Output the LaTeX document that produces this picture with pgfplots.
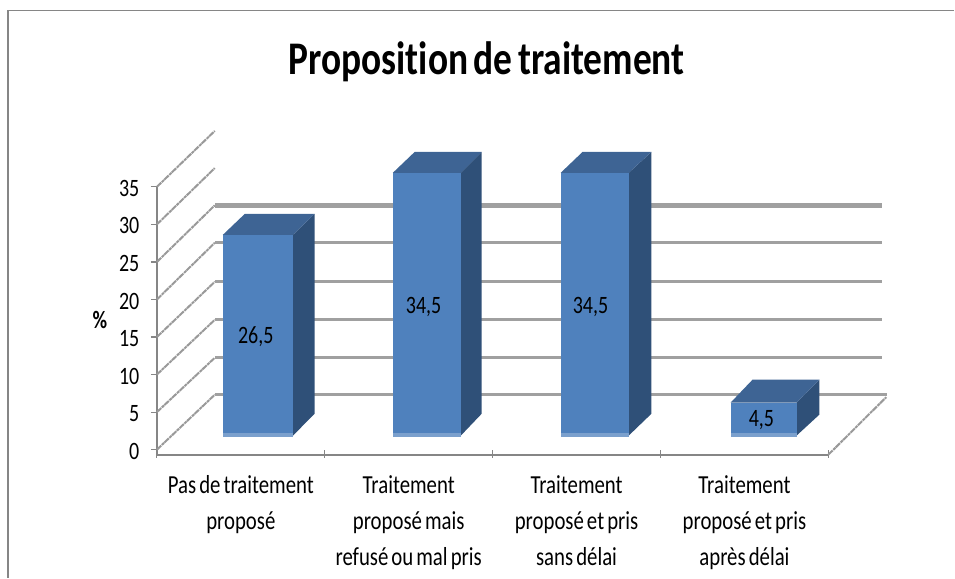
\documentclass[border=0pt]{standalone}
\usepackage{fontspec}
\setmainfont[FakeStretch=0.8,Ligatures=NoCommon,WordSpace=0.65]{Carlito}
\usepackage{pgfplots}
\pgfplotsset{compat=1.18}
\definecolor{front}{HTML}{4F81BD}
\definecolor{topf}{HTML}{3E6494}
\definecolor{sidef}{HTML}{2F5078}
\definecolor{strip}{HTML}{7BA0CD}
\definecolor{gridc}{HTML}{A0A0A0}
\definecolor{axisc}{HTML}{868686}
\definecolor{diagc}{HTML}{999999}
\pgfplotsset{
  face/.style={draw=none, fill=#1, forget plot},
  wall/.style={gridc, line width=3pt, forget plot},
  diag/.style={diagc, line width=2pt, dash pattern=on 6pt off 0.8pt on 3pt off 0.6pt, forget plot},
}
\begin{document}
\begin{tikzpicture}[x=1pt,y=1pt]
\path (0,0) rectangle (955,578);
\draw[axisc, line width=1.4pt] (8,0) -- (8,567.5) -- (955,567.5);
\begin{axis}[
  at={(157pt,123pt)}, anchor=south west,
  scale only axis, width=672pt, height=268pt,
  clip=false,
  xmin=-0.5, xmax=3.5, ymin=-0.666, ymax=35,
  axis x line*=bottom, axis y line*=left,
  axis line style={-, axisc, line width=1.8pt},
  ytick={0,5,10,15,20,25,30,35},
  xtick={0,1,2,3},
  minor xtick={-0.5,0.5,1.5,2.5,3.5},
  xticklabels={{Pas de traitement\\proposé},{Traitement\\proposé mais\\refusé ou mal pris},{Traitement\\proposé et pris\\sans délai},{Traitement\\proposé et pris\\après délai}},
  tick align=outside,
  major x tick style={draw=none},
  major y tick style={axisc, line width=1.2pt},
  major tick length=6pt,
  minor tick length=8pt,
  minor x tick style={axisc, line width=1.2pt, yshift=5pt},
  /pgf/number format/assume math mode=true,
  yticklabel style={font=\fontsize{25}{28}\selectfont, xshift=-8pt, yshift=-1.5pt},
  xticklabel style={font=\fontsize{26}{36}\selectfont, align=center, anchor=north, yshift=-11pt},
  title={\bfseries Proposition de traitement},
  title style={font=\fontsize{46.8}{50}\selectfont, at={(axis description cs:0.491,1.446)}, anchor=center},
  ylabel={\bfseries\%},
  ylabel style={font=\fontsize{25}{28}\selectfont, rotate=-90, at={(axis description cs:-0.085,0.504)}, anchor=center},
]
% diagonals of the left wall
\addplot[diag] coordinates {(-0.5,0) (-0.155,7.32)};
\addplot[diag] coordinates {(-0.5,5) (-0.155,12.24)};
\addplot[diag] coordinates {(-0.5,10) (-0.155,17.30)};
\addplot[diag] coordinates {(-0.5,15) (-0.155,22.36)};
\addplot[diag] coordinates {(-0.5,20) (-0.155,27.55)};
\addplot[diag] coordinates {(-0.5,25) (-0.155,32.54)};
\addplot[diag] coordinates {(-0.5,30) (-0.155,37.50)};
\addplot[diag] coordinates {(-0.5,35) (-0.155,42.45)};
\addplot[diag] coordinates {(3.5,-0.666) (3.845,7.00)};
% lines of the back wall
\addplot[wall] coordinates {(-0.155,7.32) (3.85,7.32)};
\addplot[wall] coordinates {(-0.155,12.24) (3.82,12.24)};
\addplot[wall] coordinates {(-0.155,17.30) (3.82,17.30)};
\addplot[wall] coordinates {(-0.155,22.36) (3.82,22.36)};
\addplot[wall] coordinates {(-0.155,27.55) (3.82,27.55)};
\addplot[wall, line width=5pt] coordinates {(-0.155,32.54) (3.82,32.54)};
% bar 1: 26,5
\addplot[face=sidef] coordinates {(0.310,1.86) (0.440,4.79) (0.440,31.41) (0.310,28.61)} --cycle;
\addplot[face=topf] coordinates {(-0.107,28.61) (0.024,31.41) (0.440,31.41) (0.310,28.61)} --cycle;
\addplot[face=front] coordinates {(-0.107,1.73) (0.310,1.73) (0.310,28.61) (-0.107,28.61)} --cycle;
\addplot[face=strip] coordinates {(-0.107,1.73) (0.310,1.73) (0.310,2.26) (-0.107,2.26)} --cycle;
% bar 2: 34,5
\addplot[face=sidef] coordinates {(1.310,1.86) (1.435,4.79) (1.435,39.66) (1.310,36.86)} --cycle;
\addplot[face=topf] coordinates {(0.905,36.86) (1.036,39.66) (1.435,39.66) (1.310,36.86)} --cycle;
\addplot[face=front] coordinates {(0.905,1.73) (1.310,1.73) (1.310,36.86) (0.905,36.86)} --cycle;
\addplot[face=strip] coordinates {(0.905,1.73) (1.310,1.73) (1.310,2.26) (0.905,2.26)} --cycle;
% bar 3: 34,5
\addplot[face=sidef] coordinates {(2.310,1.86) (2.446,4.79) (2.446,39.66) (2.310,36.86)} --cycle;
\addplot[face=topf] coordinates {(1.905,36.86) (2.036,39.66) (2.446,39.66) (2.310,36.86)} --cycle;
\addplot[face=front] coordinates {(1.905,1.73) (2.310,1.73) (2.310,36.86) (1.905,36.86)} --cycle;
\addplot[face=strip] coordinates {(1.905,1.73) (2.310,1.73) (2.310,2.26) (1.905,2.26)} --cycle;
% bar 4: 4,5
\addplot[face=sidef] coordinates {(3.310,1.86) (3.446,4.66) (3.446,9.32) (3.310,6.25)} --cycle;
\addplot[face=topf] coordinates {(2.917,6.25) (3.048,9.32) (3.446,9.32) (3.310,6.25)} --cycle;
\addplot[face=front] coordinates {(2.917,1.73) (3.310,1.73) (3.310,6.25) (2.917,6.25)} --cycle;
\addplot[face=strip] coordinates {(2.917,1.73) (3.310,1.73) (3.310,2.26) (2.917,2.26)} --cycle;
% value labels
\node[font=\fontsize{25}{28}\selectfont] at (axis cs:0.089,15.0) {26,5};
\node[font=\fontsize{25}{28}\selectfont] at (axis cs:1.089,19.0) {34,5};
\node[font=\fontsize{25}{28}\selectfont] at (axis cs:2.083,19.0) {34,5};
\node[font=\fontsize{25}{28}\selectfont] at (axis cs:3.101,4.0) {4,5};
\end{axis}
\end{tikzpicture}
\end{document}
